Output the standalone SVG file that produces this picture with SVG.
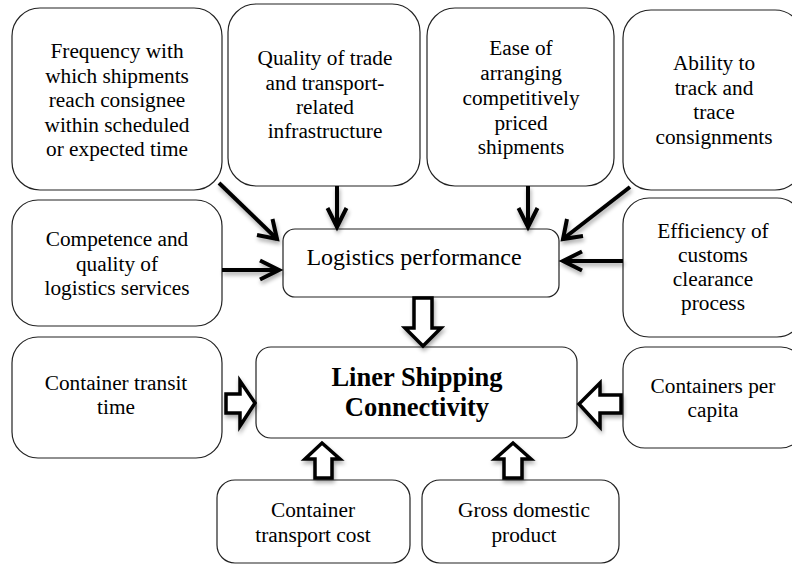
<svg xmlns="http://www.w3.org/2000/svg" width="792" height="564" viewBox="0 0 792 564">
<defs>
<style>
.box{fill:#fff;stroke:#222;stroke-width:1.2}
.t{font-family:"Liberation Serif","Times New Roman",serif;font-size:21.3px;fill:#000;text-anchor:middle}
.lp{font-size:24px}
.b{font-weight:bold;font-size:26.5px}
.ln{stroke:#000;stroke-width:4;fill:none;stroke-linecap:butt}
.hd{stroke:#000;stroke-width:4;fill:none;stroke-linejoin:miter}
.blk{fill:#fff;stroke:#000;stroke-width:3.5;stroke-linejoin:miter}
</style>
<filter id="sh" x="-30%" y="-30%" width="160%" height="160%">
<feGaussianBlur in="SourceAlpha" stdDeviation="2"/>
<feOffset dx="1" dy="3" result="o"/>
<feComponentTransfer><feFuncA type="linear" slope="0.35"/></feComponentTransfer>
<feMerge><feMergeNode/><feMergeNode in="SourceGraphic"/></feMerge>
</filter>
</defs>
<rect width="792" height="564" fill="#fff"/>

<g id="n1"><rect class="box" x="12" y="8" width="210" height="182" rx="28"/>
<text class="t" x="117" y="58">Frequency with</text>
<text class="t" x="117" y="82.5">which shipments</text>
<text class="t" x="117" y="107">reach consignee</text>
<text class="t" x="117" y="131.5">within scheduled</text>
<text class="t" x="117" y="156">or expected time</text></g>

<g id="n2"><rect class="box" x="228" y="4" width="192" height="182" rx="28"/>
<text class="t" x="325" y="65">Quality of trade</text>
<text class="t" x="325" y="89.5">and transport-</text>
<text class="t" x="325" y="113.5">related</text>
<text class="t" x="325" y="138">infrastructure</text></g>

<g id="n3"><rect class="box" x="427" y="8" width="187" height="178" rx="28"/>
<text class="t" x="521" y="55">Ease of</text>
<text class="t" x="521" y="80">arranging</text>
<text class="t" x="521" y="105">competitively</text>
<text class="t" x="521" y="129.5">priced</text>
<text class="t" x="521" y="154">shipments</text></g>

<g id="n4"><rect class="box" x="623" y="10" width="180" height="180" rx="28"/>
<text class="t" x="714" y="70">Ability to</text>
<text class="t" x="714" y="94.5">track and</text>
<text class="t" x="714" y="119">trace</text>
<text class="t" x="714" y="143.5">consignments</text></g>

<g id="n5"><rect class="box" x="12" y="200" width="210" height="126" rx="26"/>
<text class="t" x="117" y="246">Competence and</text>
<text class="t" x="117" y="270.5">quality of</text>
<text class="t" x="117" y="295">logistics services</text></g>

<g id="n6"><rect class="box" x="12" y="337" width="210" height="121" rx="26"/>
<text class="t" x="116" y="390">Container transit</text>
<text class="t" x="116" y="414">time</text></g>

<g id="n7"><rect class="box" x="283" y="229" width="276" height="68" rx="12"/>
<text class="t lp" x="414" y="265">Logistics performance</text></g>

<g id="n8"><rect class="box" x="623" y="198" width="180" height="139" rx="26"/>
<text class="t" x="713" y="238">Efficiency of</text>
<text class="t" x="713" y="262">customs</text>
<text class="t" x="713" y="286">clearance</text>
<text class="t" x="713" y="310">process</text></g>

<g id="n9"><rect class="box" x="623" y="347" width="180" height="101" rx="22"/>
<text class="t" x="713" y="393">Containers per</text>
<text class="t" x="713" y="417">capita</text></g>

<g id="n10"><rect class="box" x="256" y="347" width="321" height="91" rx="15"/>
<text class="t b" x="417" y="386">Liner Shipping</text>
<text class="t b" x="417" y="416">Connectivity</text></g>

<g id="n11"><rect class="box" x="217" y="480" width="193" height="83" rx="18"/>
<text class="t" x="313" y="517">Container</text>
<text class="t" x="313" y="542">transport cost</text></g>

<g id="n12"><rect class="box" x="422" y="480" width="197" height="83" rx="18"/>
<text class="t" x="524" y="517">Gross domestic</text>
<text class="t" x="524" y="542">product</text></g>

<g id="connectors" filter="url(#sh)">
<line class="ln" x1="219" y1="183" x2="277" y2="239"/>
<polyline class="hd" points="272.5,219 277,239 257,235"/>
<line class="ln" x1="337" y1="186" x2="337" y2="227"/>
<polyline class="hd" points="327.5,208 337,227 346.5,208"/>
<line class="ln" x1="528" y1="186" x2="528" y2="227"/>
<polyline class="hd" points="518.5,208 528,227 537.5,208"/>
<line class="ln" x1="630" y1="187" x2="563" y2="239"/>
<polyline class="hd" points="567,219 563,239 583,236"/>
<line class="ln" x1="222" y1="270" x2="279" y2="270"/>
<polyline class="hd" points="260,260.5 279,270 260,279.5"/>
<line class="ln" x1="623" y1="261" x2="563" y2="261"/>
<polyline class="hd" points="582,251.5 563,261 582,270.5"/>
<polygon class="blk" points="414,298 432,298 432,328 441,328 423,346 405,328 414,328"/>
<polygon class="blk" points="226,394 240,394 240,381 255,403 240,426 240,413 226,413"/>
<polygon class="blk" points="621,395 600,395 600,383 579,404 600,427 600,413 621,413"/>
<polygon class="blk" points="315,478 332,478 332,459 340,459 322,443 305,459 315,459"/>
<polygon class="blk" points="504,478 522,478 522,459 531,459 513,443 495,459 504,459"/>
</g>
</svg>
